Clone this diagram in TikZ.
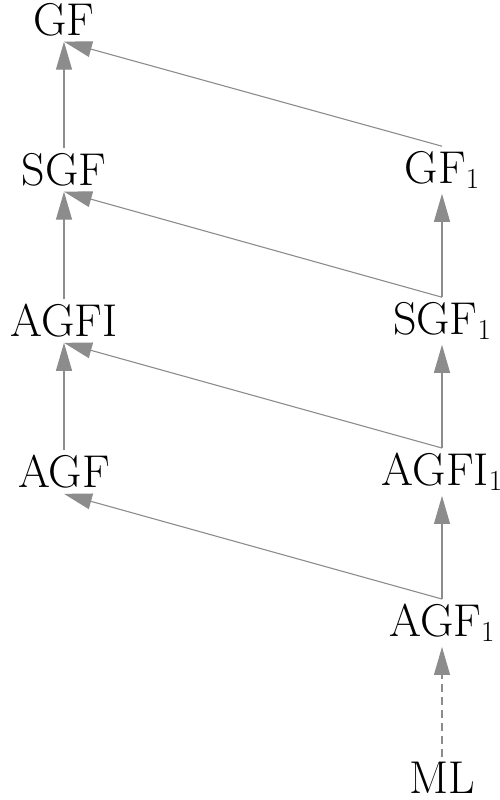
\documentclass[tikz,border=0pt]{standalone}
\usetikzlibrary{arrows.meta}
\definecolor{edgegray}{HTML}{8C8C8C}
\newcommand{\lsub}[1]{\raisebox{-5pt}{\fontsize{29}{32}\selectfont #1}}
\tikzset{
  lbl/.style={inner sep=5pt, font=\fontsize{46}{54}\selectfont},
  arr/.style={draw=edgegray, line width=1.1pt, -{Triangle[length=28pt,width=16pt,fill=edgegray]}},
  dasharr/.style={arr, dash pattern=on 8pt off 5pt}
}
\begin{document}
\begin{tikzpicture}[x=1pt,y=-1pt]
\useasboundingbox (0,0) rectangle (499,800);
\node[lbl] (GF)    at (64,20)   {GF};
\node[lbl] (SGF)   at (64,170)  {SGF};
\node[lbl] (AGFI)  at (64,321)  {AGFI};
\node[lbl] (AGF)   at (64,472)  {AGF};
\node[lbl] (GF1)   at (442,170) {GF\lsub{1}};
\node[lbl] (SGF1)  at (442,321) {SGF\lsub{1}};
\node[lbl] (AGFI1) at (442,472) {AGFI\lsub{1}};
\node[lbl] (AGF1)  at (442,623) {AGF\lsub{1}};
\node[lbl] (ML)    at (442,778) {ML};
\draw[arr] (SGF.north) -- (GF.south);
\draw[arr] (GF1.north) -- (GF.south);
\draw[arr] (AGFI.north) -- (SGF.south);
\draw[arr] (SGF1.north) -- (SGF.south);
\draw[arr] (SGF1.north) -- (GF1.south);
\draw[arr] (AGF.north) -- (AGFI.south);
\draw[arr] (AGFI1.north) -- (AGFI.south);
\draw[arr] (AGFI1.north) -- (SGF1.south);
\draw[arr] (AGF1.north) -- (AGF.south);
\draw[arr] (AGF1.north) -- (AGFI1.south);
\draw[dasharr] (ML.north) -- (AGF1.south);
\end{tikzpicture}
\end{document}
